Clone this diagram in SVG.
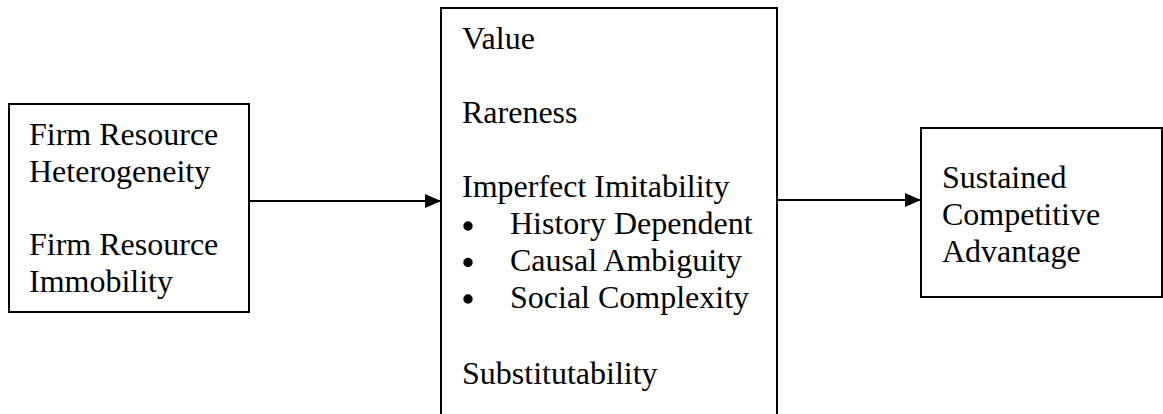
<svg xmlns="http://www.w3.org/2000/svg" width="1163" height="414" viewBox="0 0 1163 414">
<defs>
<style>
.box{fill:#fff;stroke:#000;stroke-width:2}
.t{font-family:"Liberation Serif","Times New Roman",serif;font-size:32px;fill:#000}
.c{stroke:#000;stroke-width:2;fill:none}
.b{fill:#000}
</style>
<marker id="ah" markerWidth="16" markerHeight="14" refX="16" refY="7" orient="auto" markerUnits="userSpaceOnUse">
<path d="M0,0 L16,7 L0,14 Z" fill="#000"/>
</marker>
</defs>
<rect width="1163" height="414" fill="#fff"/>
<g id="node-resources">
<rect class="box" x="9" y="104" width="240" height="208"/>
<text class="t" x="29" y="145">Firm Resource</text>
<text class="t" x="29" y="182">Heterogeneity</text>
<text class="t" x="29" y="255">Firm Resource</text>
<text class="t" x="29" y="292">Immobility</text>
</g>
<g id="node-attributes">
<rect class="box" x="441" y="8" width="336" height="420"/>
<text class="t" x="462" y="49">Value</text>
<text class="t" x="462" y="123">Rareness</text>
<text class="t" x="462" y="197">Imperfect Imitability</text>
<circle class="b" cx="468" cy="226" r="4.7"/>
<text class="t" x="510" y="234">History Dependent</text>
<circle class="b" cx="468" cy="262.5" r="4.7"/>
<text class="t" x="510" y="271">Causal Ambiguity</text>
<circle class="b" cx="468" cy="299" r="4.7"/>
<text class="t" x="510" y="308">Social Complexity</text>
<text class="t" x="462" y="384">Substitutability</text>
</g>
<g id="node-advantage">
<rect class="box" x="921" y="128" width="241" height="169"/>
<text class="t" x="942" y="188">Sustained</text>
<text class="t" x="942" y="225">Competitive</text>
<text class="t" x="942" y="262">Advantage</text>
</g>
<g id="connectors">
<line class="c" x1="249" y1="201" x2="441" y2="201" marker-end="url(#ah)"/>
<line class="c" x1="777" y1="200" x2="921" y2="200" marker-end="url(#ah)"/>
</g>
</svg>
